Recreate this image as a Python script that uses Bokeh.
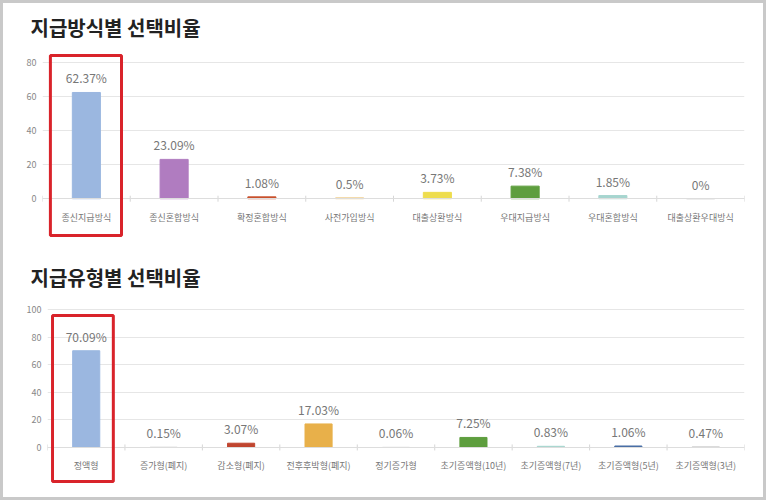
from bokeh.plotting import figure
from bokeh.models import ColumnDataSource, BoxAnnotation, FixedTicker, Range1d
from bokeh.layouts import column
from bokeh.embed import file_html
from bokeh.resources import INLINE
from bokeh.core.properties import value
import math

FONT = "Noto Sans CJK KR"

title1 = "지급방식별 선택비율"
cats1 = ["종신지급방식", "종신혼합방식", "확정혼합방식", "사전가입방식",
         "대출상환방식", "우대지급방식", "우대혼합방식", "대출상환우대방식"]
vals1 = [62.37, 23.09, 1.08, 0.5, 3.73, 7.38, 1.85, 0]
colors1 = ["#9bb7e0", "#b07cc0", "#c8502c", "#f0cf8e",
           "#eedd4d", "#5e9e3e", "#a6d5cf", "#cccccc"]
ticks1 = [0, 20, 40, 60, 80]

title2 = "지급유형별 선택비율"
cats2 = ["정액형", "증가형(폐지)", "감소형(폐지)", "전후후박형(폐지)", "정기증가형",
         "초기증액형(10년)", "초기증액형(7년)", "초기증액형(5년)", "초기증액형(3년)"]
vals2 = [70.09, 0.15, 3.07, 17.03, 0.06, 7.25, 0.83, 1.06, 0.47]
colors2 = ["#9bb7e0", "#d0d0d0", "#c0452f", "#e8b04a", "#d0d0d0",
           "#5e9e3e", "#a6d5cf", "#4a6fa5", "#d0d0d0"]
ticks2 = [0, 20, 40, 60, 80, 100]

highlight = 0  # index of highlighted category in both charts


def make(title, cats, vals, colors, ticks, bar_w, yr, mb_left, mb_top, mb_bottom,
         standoff, box_x, box_y):
    src = ColumnDataSource(dict(cat=cats, val=vals, color=colors,
                                lab=[f"{v:g}%" for v in vals]))
    p = figure(x_range=cats, y_range=Range1d(*yr), width=760, height=247,
               output_backend="svg", toolbar_location=None,
               min_border_left=mb_left, min_border_right=19,
               min_border_top=mb_top, min_border_bottom=mb_bottom)
    p.frame_align = False
    p.title.text = title
    p.title.text_font = FONT
    p.title.text_font_size = "20px"
    p.title.text_font_style = "bold"
    p.title.text_color = "#222222"
    p.title.offset = 27 - mb_left
    p.title.standoff = standoff
    p.outline_line_color = None
    p.background_fill_color = "white"
    p.border_fill_color = "white"
    p.vbar(x="cat", top="val", width=bar_w, color="color", source=src)
    p.text(x="cat", y="val", text="lab", source=src, text_align="center",
           text_baseline="bottom", y_offset=-6, text_font=value(FONT),
           text_font_size="12px", text_color="#777777")
    # small tick marks at category boundaries on the x axis line
    bnd = list(range(len(cats) + 1))
    p.scatter(x=bnd, y=[0] * len(bnd), marker="dash", angle=math.pi / 2,
              size=6, line_color="#d6d6d6", line_width=1)
    p.xgrid.grid_line_color = None
    p.ygrid.grid_line_color = "#e6e6e6"
    p.yaxis.ticker = FixedTicker(ticks=ticks)
    p.yaxis.axis_line_color = None
    p.yaxis.major_tick_line_color = None
    p.yaxis.minor_tick_line_color = None
    p.yaxis.major_tick_out = 0
    p.yaxis.major_label_standoff = 6
    p.yaxis.major_label_text_font = FONT
    p.yaxis.major_label_text_font_size = "9px"
    p.yaxis.major_label_text_color = "#888888"
    p.xaxis.fixed_location = 0
    p.xaxis.axis_line_color = "#dddddd"
    p.xaxis.major_tick_line_color = None
    p.xaxis.major_tick_out = 0
    p.xaxis.major_label_text_font = FONT
    p.xaxis.major_label_text_font_size = "9px"
    p.xaxis.major_label_text_color = "#777777"
    p.xaxis.major_label_standoff = 12
    p.add_layout(BoxAnnotation(left=highlight + box_x[0], right=highlight + box_x[1],
                               top=box_y[1], bottom=box_y[0],
                               fill_alpha=0, line_color="#d9232a",
                               line_alpha=1, line_width=3))
    return p


p1 = make(title1, cats1, vals1, colors1, ticks1, 0.32, (-26.3, 87.6), 39, 45, 7, 15,
          (0.09, 0.90), (-21.6, 84.1))
p2 = make(title2, cats2, vals2, colors2, ticks2, 0.35, (-31.2, 106.5), 44, 50, 7, 17,
          (0.065, 0.85), (-24.6, 95.7))

layout = column(p1, p2, spacing=0, styles={"border": "3px solid #c9c9c9"})

open("out.html", "w").write(file_html(layout, INLINE))
